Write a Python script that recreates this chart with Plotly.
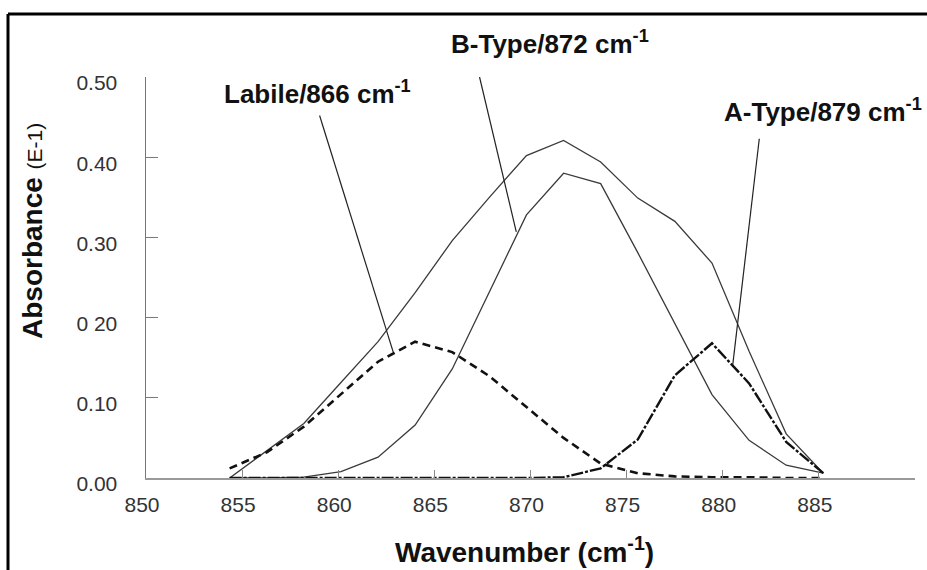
import plotly.graph_objects as go

# ---- data ----
wavenumber = [854.35, 856.28, 858.21, 860.14, 862.07, 864.00, 865.93, 867.86, 869.79,
              871.72, 873.65, 875.58, 877.51, 879.44, 881.37, 883.30, 885.23]
total = [0.000, 0.034, 0.068, 0.119, 0.170, 0.231, 0.296, 0.350, 0.402,
         0.421, 0.394, 0.349, 0.320, 0.268, 0.158, 0.055, 0.006]
b_type = [0.000, 0.000, 0.001, 0.008, 0.026, 0.066, 0.136, 0.233, 0.328,
          0.380, 0.367, 0.281, 0.192, 0.104, 0.047, 0.016, 0.006]
labile = [0.012, 0.032, 0.064, 0.105, 0.145, 0.170, 0.157, 0.127, 0.088,
          0.050, 0.018, 0.006, 0.002, 0.001, 0.001, 0.000, 0.000]
a_type = [0.000, 0.000, 0.000, 0.000, 0.000, 0.000, 0.000, 0.000, 0.000,
          0.001, 0.012, 0.048, 0.128, 0.168, 0.118, 0.045, 0.006]

x_ticks = [850, 855, 860, 865, 870, 875, 880, 885, 890]
y_ticks = [0.0, 0.1, 0.2, 0.3, 0.4, 0.5]
y_tick_text = ["0.00", "0.10", "0 20", "0.30", "0.40", "0.50"]

labels = ["Labile/866 cm<sup>-1</sup>", "B-Type/872 cm<sup>-1</sup>", "A-Type/879 cm<sup>-1</sup>"]

FONT = "Arial, Liberation Sans, sans-serif"

# plot-area geometry in pixels (for paper-referenced layout items)
L, R, T, B = 146, 12, 77, 92
W, H = 927, 570
PW, PH = W - L - R, H - T - B


def px(xp):
    return (xp - L) / PW


def py(yp):
    return (H - B - yp) / PH


fig = go.Figure()
fig.add_trace(go.Scatter(x=wavenumber, y=total, mode="lines",
                         line=dict(color="#3a3a3a", width=1.3), showlegend=False))
fig.add_trace(go.Scatter(x=wavenumber, y=b_type, mode="lines",
                         line=dict(color="#3a3a3a", width=1.3), showlegend=False))
fig.add_trace(go.Scatter(x=wavenumber, y=labile, mode="lines",
                         line=dict(color="#111111", width=2.6, dash="8px,5px"), showlegend=False))
fig.add_trace(go.Scatter(x=wavenumber, y=a_type, mode="lines",
                         line=dict(color="#111111", width=2.4, dash="12px,2px,3px,2px"), showlegend=False))

# leader lines from labels to curves
leaders = [
    ((859.03, 0.452), (862.86, 0.157)),
    ((867.35, 0.500), (869.26, 0.307)),
    ((881.90, 0.423), (880.52, 0.141)),
]
for (tx, ty), (hx, hy) in leaders:
    fig.add_shape(type="line", xref="x", yref="y", x0=tx, y0=ty, x1=hx, y1=hy,
                  line=dict(color="#222222", width=1.2))

# label positions (pixel left edge, pixel vertical centre)
label_px = [(222, 93), (449, 43), (722, 110)]
for txt, (lx, ly) in zip(labels, label_px):
    fig.add_annotation(x=px(lx), y=py(ly), xref="paper", yref="paper", text="<b>" + txt + "</b>",
                       showarrow=False, xanchor="left", yanchor="middle",
                       font=dict(family=FONT, size=26, color="#111111"))

# axis titles
fig.add_annotation(x=px(33), y=py(231), xref="paper", yref="paper",
                   text="<b>Absorbance</b> <span style='font-size:21px'>(E-1)</span>",
                   textangle=-90, showarrow=False, xanchor="center", yanchor="middle",
                   font=dict(family=FONT, size=28, color="#111111"))
fig.add_annotation(x=px(524), y=py(550), xref="paper", yref="paper",
                   text="<b>Wavenumber (cm<sup>-1</sup>)</b>",
                   showarrow=False, xanchor="center", yanchor="middle",
                   font=dict(family=FONT, size=28, color="#111111"))

# outer frame (top and left edges)
fig.add_shape(type="line", xref="paper", yref="paper", x0=px(8), x1=1.2,
              y0=py(14), y1=py(14), line=dict(color="black", width=3))
fig.add_shape(type="line", xref="paper", yref="paper", x0=px(8), x1=px(8),
              y0=py(14), y1=-0.5, line=dict(color="black", width=3))

fig.update_xaxes(range=[850, 890], tickvals=x_ticks, ticktext=[str(v) for v in x_ticks],
                 showgrid=False, zeroline=False, showline=True, linecolor="#9a9a9a", linewidth=2,
                 ticks="inside", ticklen=8, tickwidth=1, tickcolor="#888888",
                 ticklabelstandoff=7, ticklabelshift=-4,
                 tickfont=dict(family=FONT, size=21, color="#333333"))
fig.update_yaxes(range=[0, 0.5], tickvals=y_ticks, ticktext=y_tick_text,
                 showgrid=False, zeroline=False, showline=True, linecolor="#777777", linewidth=1.5,
                 ticks="inside", ticklen=12, tickwidth=1, tickcolor="#777777",
                 ticklabelstandoff=23, ticklabelshift=6,
                 tickfont=dict(family=FONT, size=21, color="#333333"))

fig.update_layout(width=W, height=H, margin=dict(l=L, r=R, t=T, b=B),
                  paper_bgcolor="white", plot_bgcolor="white", showlegend=False,
                  hovermode=False)

fig.write_html("out.html", config={"displayModeBar": False, "staticPlot": True},
               post_script="document.body.style.margin='0';")
